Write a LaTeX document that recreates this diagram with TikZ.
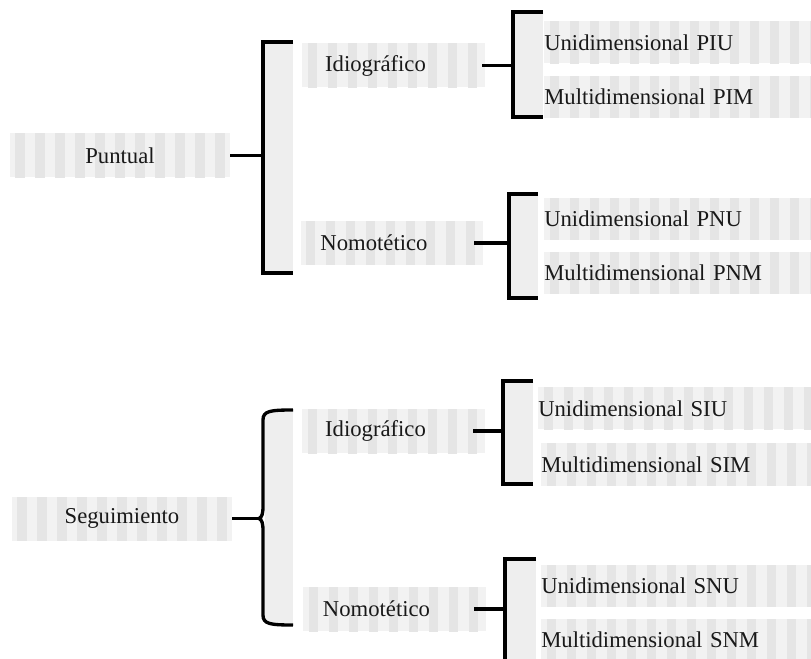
\documentclass[tikz,border=0pt]{standalone}
\usepackage{fontspec}
\setmainfont{Liberation Serif}
\begin{document}
\begin{tikzpicture}[x=0.75pt,y=-0.75pt,
  stripes/.style={fill=gray!10, path picture={
     \foreach \i in {0,...,18}{\fill[gray!20] ([xshift=\i*15pt+4pt]path picture bounding box.north west) rectangle ++(7pt,-60pt);}}},
  basebox/.style={stripes, draw=none, inner sep=0pt, text=black!90, font=\fontsize{17}{20}\selectfont},
  topbox/.style={basebox, minimum width=165pt, minimum height=33pt},
  midbox/.style={basebox, minimum width=137pt, minimum height=33pt, execute at begin node={\hspace*{-27pt}}},
  leafbox/.style={basebox, anchor=west, text width=205pt, align=left, inner xsep=0pt, minimum height=31.5pt},
  strip/.style={fill=gray!13, draw=none},
  brk/.style={line width=2.5pt, draw=black},
  conn/.style={line width=2.5pt, draw=black}
]
\clip (0,0) rectangle (811,659);
\fill[white] (0,0) rectangle (811,659);

% gray strips beside brackets
\fill[strip] (265,44) rectangle (293,271);
\fill[strip] (515,14) rectangle (543,115);
\fill[strip] (511,196) rectangle (538,296);
\fill[strip] (265,412) rectangle (293,623);
\fill[strip] (505,383) rectangle (533,482);
\fill[strip] (507,561) rectangle (536,659);

% boxes
\node[topbox] (puntual) at (120,155.5) {Puntual};
\node[topbox] (seg) at (122,518.5) {Seguimiento};

\node[midbox] (idio1) at (393.5,65.5) {Idiográfico};
\node[midbox] (nomo1) at (392,243) {Nomotético};
\node[midbox] (idio2) at (393.5,431) {Idiográfico};
\node[midbox] (nomo2) at (394.5,609) {Nomotético};

\node[leafbox] (piu) at (544,42.5) {Unidimensional PIU};
\node[leafbox] (pim) at (544,97) {Multidimensional PIM};
\node[leafbox] (pnu) at (544,219) {Unidimensional PNU};
\node[leafbox] (pnm) at (544,273) {Multidimensional PNM};
\node[leafbox] (siu) at (538,408.5) {Unidimensional SIU};
\node[leafbox] (sim) at (541,464.5) {Multidimensional SIM};
\node[leafbox] (snu) at (541,585.5) {Unidimensional SNU};
\node[leafbox] (snm) at (541,640) {Multidimensional SNM};

% bracket coordinates
\coordinate (b1) at (263,155.5);
\coordinate (b2) at (513,65.5);
\coordinate (b3) at (509,243);
\coordinate (b4) at (259,518.5);
\coordinate (b5) at (503,431);
\coordinate (b6) at (505,609);

% brackets
\draw[brk] (293,42) -- (263,42) -- (263,273) -- (293,273);
\draw[brk] (543,12) -- (513,12) -- (513,117) -- (543,117);
\draw[brk] (538,194) -- (509,194) -- (509,298) -- (538,298);
\draw[brk] (293,410) .. controls (270,410) and (263,411) .. (263,420) -- (263,506)
  .. controls (263,514) and (262,517) .. (b4)
  .. controls (262,520) and (263,523) .. (263,531) -- (263,615)
  .. controls (263,624) and (270,625) .. (293,625);
\draw[brk] (533,381) -- (503,381) -- (503,484) -- (533,484);
\draw[brk] (536,559) -- (505,559) -- (505,670);

% connectors
\draw[conn] (puntual.east) -- (b1);
\draw[conn] ([xshift=-2pt]idio1.east) -- (b2);
\draw[conn] ([xshift=-7pt]nomo1.east) -- (b3);
\draw[conn] (seg.east) -- (b4);
\draw[conn] ([xshift=-9pt]idio2.east) -- (b5);
\draw[conn] ([xshift=-9pt]nomo2.east) -- (b6);
\end{tikzpicture}
\end{document}
